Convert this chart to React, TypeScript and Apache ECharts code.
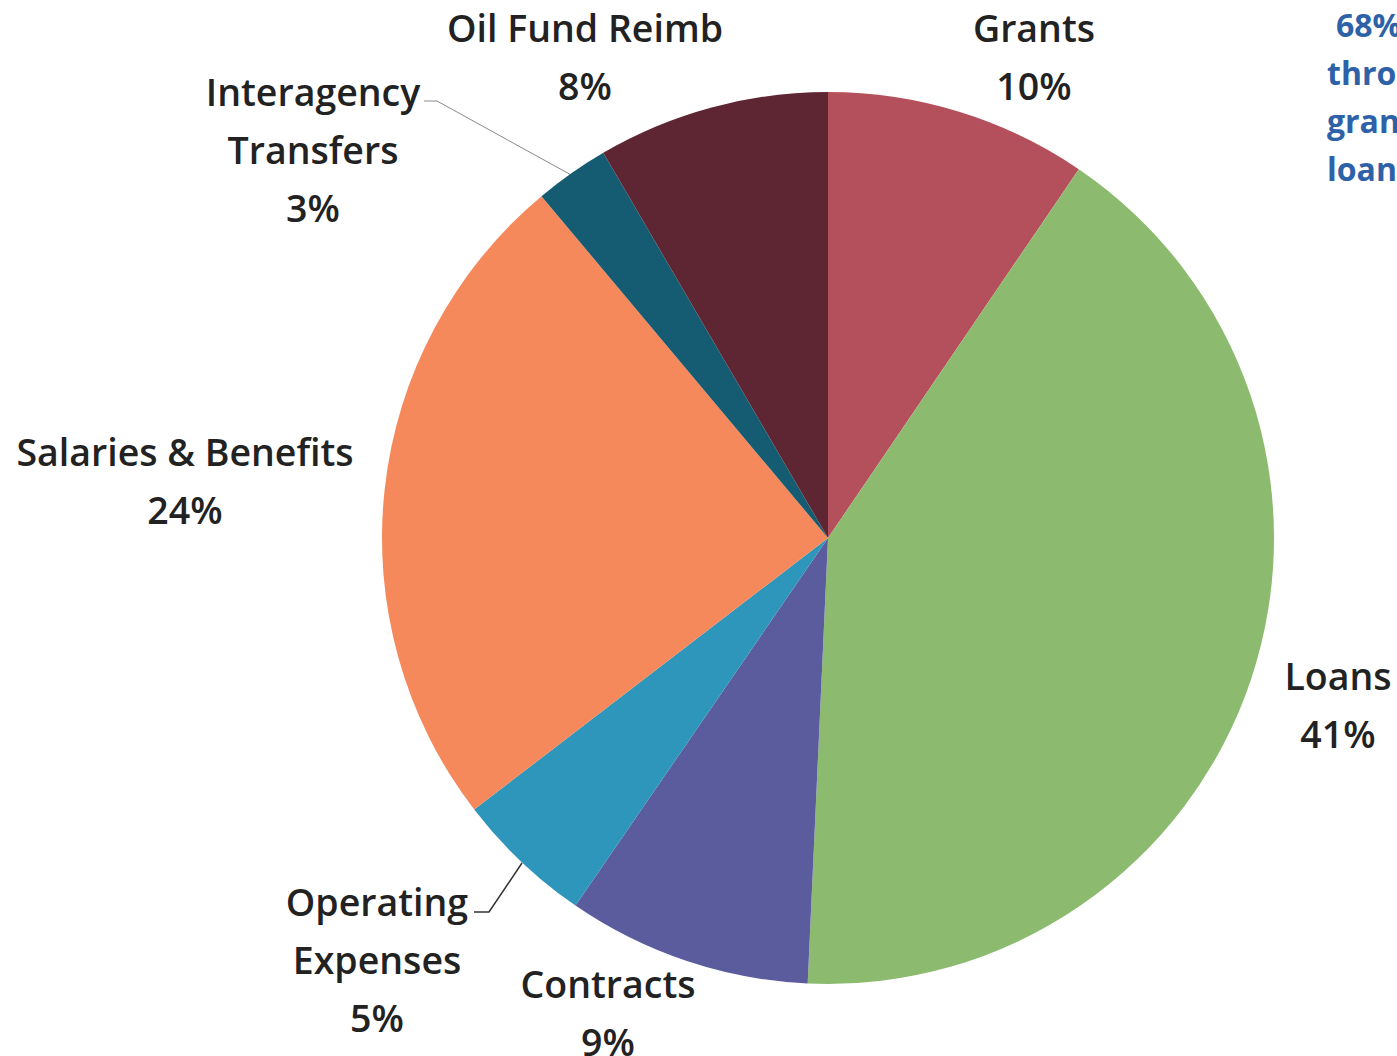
import React, { useEffect, useRef } from "react";
import * as echarts from "echarts";

const categories = [
  "Grants",
  "Loans",
  "Contracts",
  "Operating\nExpenses",
  "Salaries & Benefits",
  "Interagency\nTransfers",
  "Oil Fund Reimb",
];
const shares = [9.5, 41.2, 8.85, 5.0, 24.3, 2.7, 8.4];
const colors = ["#b44f5c", "#8cbb70", "#5a5c9e", "#2d96ba", "#f6895b", "#155c73", "#5e2533"];
const noteLines = ["68%", "through", "grants &", "loans"];

const labelPos: [number, number][] = [
  [1034, 56],
  [1338, 704],
  [608, 1012],
  [377, 959],
  [185, 480],
  [313, 149],
  [585, 56],
];
const leaderLines: Record<number, number[][]> = {
  3: [[522, 863], [489, 912], [474, 912]],
  5: [[573, 176], [437, 101], [424, 101]],
};

export default function App() {
  const ref = useRef<HTMLDivElement>(null);
  useEffect(() => {
    if (!ref.current) return;
    const chart = echarts.init(ref.current, null, { renderer: "svg" });
    chart.setOption({
      animation: false,
      backgroundColor: "#ffffff",
      series: [
        {
          type: "pie",
          center: [828, 538],
          radius: 446,
          startAngle: 90,
          clockwise: true,
          avoidLabelOverlap: false,
          percentPrecision: 0,
          label: {
            show: true,
            position: "outside",
            formatter: "{b}\n{d}%",
            fontFamily: "Open Sans",
            fontWeight: 600,
            fontSize: 37.5,
            lineHeight: 58,
            color: "#222222",
            align: "center",
          },
          labelLine: { show: false },
          labelLayout: (params: any) => {
            const i = params.dataIndex;
            const [x, y] = labelPos[i];
            const out: any = { x, y, align: "center", verticalAlign: "middle" };
            if (leaderLines[i]) out.labelLinePoints = leaderLines[i];
            return out;
          },
          data: categories.map((name, i) => ({
            name,
            value: shares[i],
            itemStyle: { color: colors[i] },
            labelLine: leaderLines[i]
              ? {
                  show: true,
                  lineStyle: { color: i === 5 ? "#8a8a8a" : "#333333", width: i === 5 ? 1 : 1.5 },
                }
              : { show: false },
          })),
        },
      ],
      graphic: noteLines.map((t, i) => ({
        type: "text",
        left: i === 0 ? 1336 : 1327,
        top: 8 + i * 48,
        style: {
          text: t,
          fontFamily: "Open Sans",
          fontWeight: 700,
          fontSize: 32,
          fill: "#2e62a8",
        },
      })),
    });
    return () => chart.dispose();
  }, []);
  return (
    <div
      ref={ref}
      style={{ position: "fixed", left: 0, top: 0, width: 1397, height: 1056 }}
    />
  );
}
